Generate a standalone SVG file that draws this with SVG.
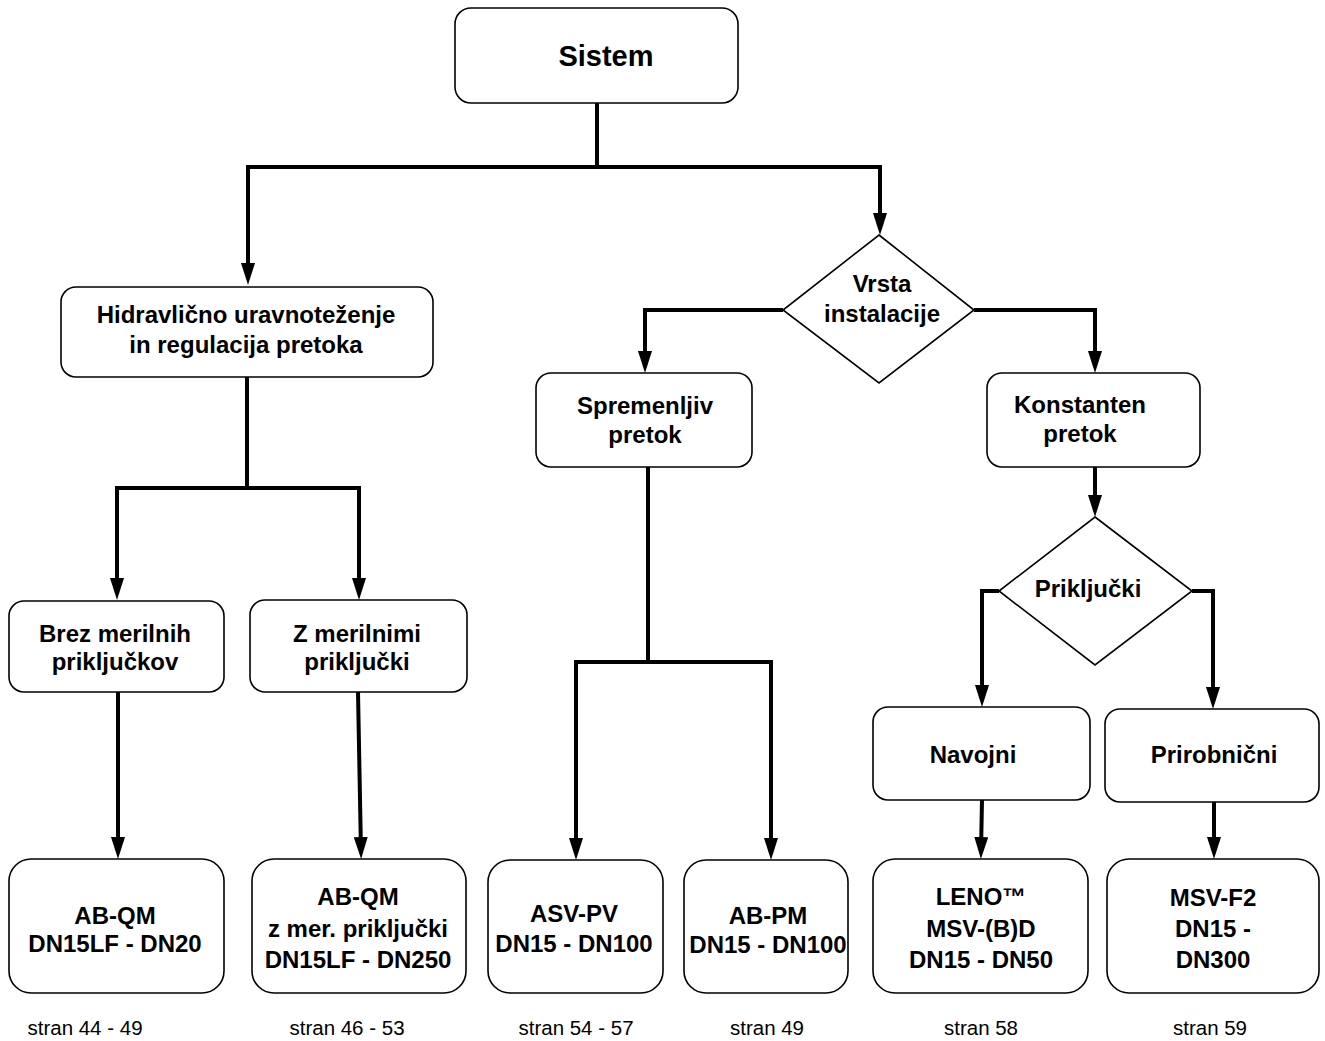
<svg xmlns="http://www.w3.org/2000/svg" width="1325" height="1041" viewBox="0 0 1325 1041">
<style>
.box{fill:#fff;stroke:#000;stroke-width:1.6}
.t{font-family:"Liberation Sans",Arial,sans-serif;font-weight:bold;font-size:24px;text-anchor:middle;fill:#000}
.s{font-family:"Liberation Sans",Arial,sans-serif;font-size:20.5px;text-anchor:middle;fill:#000}
.c{fill:none;stroke:#000;stroke-width:4;stroke-linejoin:miter}
</style>
<defs>
<marker id="ah" viewBox="0 0 22 14" refX="15" refY="7" markerWidth="22" markerHeight="14" orient="auto" markerUnits="userSpaceOnUse">
<path d="M0,0 L22,7 L0,14 z" fill="#000"/>
</marker>
</defs>
<rect width="1325" height="1041" fill="#fff"/>
<g id="connectors">
<path class="c" d="M597,103 V167 H248 V278" marker-end="url(#ah)"/>
<path class="c" d="M597,167 H880 V228" marker-end="url(#ah)"/>
<path class="c" d="M247,377 V488 H117 V593" marker-end="url(#ah)"/>
<path class="c" d="M247,488 H359 V593" marker-end="url(#ah)"/>
<path class="c" d="M118,692 V852" marker-end="url(#ah)"/>
<path class="c" d="M358,692 L361,852" marker-end="url(#ah)"/>
<path class="c" d="M783,310 H645 V366" marker-end="url(#ah)"/>
<path class="c" d="M974,310 H1095 V366" marker-end="url(#ah)"/>
<path class="c" d="M648,467 V662 H576 V853" marker-end="url(#ah)"/>
<path class="c" d="M648,662 H771 V853" marker-end="url(#ah)"/>
<path class="c" d="M1095,467 V510" marker-end="url(#ah)"/>
<path class="c" d="M999,591 H982 V700" marker-end="url(#ah)"/>
<path class="c" d="M1192,591 H1213 V702" marker-end="url(#ah)"/>
<path class="c" d="M982,800 L981,852" marker-end="url(#ah)"/>
<path class="c" d="M1214,802 V852" marker-end="url(#ah)"/>
</g>
<g id="sistem"><rect class="box" x="455" y="8" width="283" height="95" rx="16"/><text class="t" x="606" y="66" style="font-size:29px">Sistem</text></g>
<g id="hidravlicno"><rect class="box" x="61" y="287" width="372" height="90" rx="15"/><text class="t" x="246" y="323">Hidravlično uravnoteženje</text><text class="t" x="246" y="353">in regulacija pretoka</text></g>
<g id="vrsta"><polygon class="box" points="879,235 974,310 879,383 783,310"/><text class="t" x="882" y="292">Vrsta</text><text class="t" x="882" y="322">instalacije</text></g>
<g id="spremenljiv"><rect class="box" x="536" y="373" width="216" height="94" rx="15"/><text class="t" x="645" y="414">Spremenljiv</text><text class="t" x="645" y="443">pretok</text></g>
<g id="konstanten"><rect class="box" x="987" y="373" width="213" height="94" rx="15"/><text class="t" x="1080" y="413">Konstanten</text><text class="t" x="1080" y="442">pretok</text></g>
<g id="prikljucki"><polygon class="box" points="1095,517 1192,591 1095,665 999,591"/><text class="t" x="1088" y="597">Priključki</text></g>
<g id="brez"><rect class="box" x="9" y="601" width="215" height="91" rx="15"/><text class="t" x="115" y="642">Brez merilnih</text><text class="t" x="115" y="670">priključkov</text></g>
<g id="zmerilnimi"><rect class="box" x="250" y="600" width="217" height="92" rx="15"/><text class="t" x="357" y="642">Z merilnimi</text><text class="t" x="357" y="670">priključki</text></g>
<g id="navojni"><rect class="box" x="873" y="707" width="217" height="93" rx="15"/><text class="t" x="973" y="763">Navojni</text></g>
<g id="prirobnicni"><rect class="box" x="1105" y="709" width="214" height="93" rx="15"/><text class="t" x="1214" y="763">Prirobnični</text></g>
<g id="abqm"><rect class="box" x="9" y="859" width="215" height="134" rx="22"/><text class="t" x="115" y="924">AB-QM</text><text class="t" x="115" y="952">DN15LF - DN20</text><text class="s" x="85" y="1035">stran 44 - 49</text></g>
<g id="abqmz"><rect class="box" x="252" y="859" width="214" height="134" rx="22"/><text class="t" x="358" y="905">AB-QM</text><text class="t" x="358" y="937">z mer. priključki</text><text class="t" x="358" y="968">DN15LF - DN250</text><text class="s" x="347" y="1035">stran 46 - 53</text></g>
<g id="asvpv"><rect class="box" x="488" y="860" width="175" height="133" rx="22"/><text class="t" x="574" y="922">ASV-PV</text><text class="t" x="574" y="952">DN15 - DN100</text><text class="s" x="576" y="1035">stran 54 - 57</text></g>
<g id="abpm"><rect class="box" x="684" y="860" width="164" height="133" rx="22"/><text class="t" x="768" y="924">AB-PM</text><text class="t" x="768" y="953">DN15 - DN100</text><text class="s" x="767" y="1035">stran 49</text></g>
<g id="leno"><rect class="box" x="873" y="859" width="215" height="134" rx="22"/><text class="t" x="981" y="905">LENO™</text><text class="t" x="981" y="937">MSV-(B)D</text><text class="t" x="981" y="968">DN15 - DN50</text><text class="s" x="981" y="1035">stran 58</text></g>
<g id="msvf2"><rect class="box" x="1107" y="859" width="212" height="134" rx="22"/><text class="t" x="1213" y="906">MSV-F2</text><text class="t" x="1213" y="937">DN15 -</text><text class="t" x="1213" y="968">DN300</text><text class="s" x="1210" y="1035">stran 59</text></g>
</svg>
